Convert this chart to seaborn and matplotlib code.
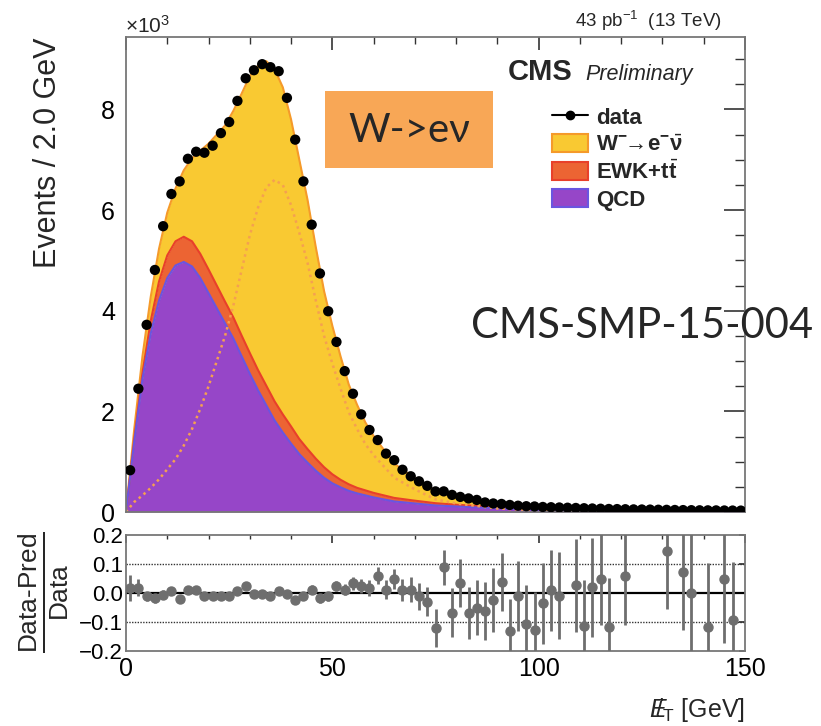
import numpy as np
import matplotlib
matplotlib.use('Agg')
import matplotlib.pyplot as plt
import matplotlib.patches as mpatches
from matplotlib.lines import Line2D
from matplotlib.ticker import MultipleLocator
import seaborn as sns

# MET bins of 2 GeV, data in units of 10^3 events
bin_centers = np.arange(1, 150, 2)
data_k = [0.83, 2.45, 3.72, 4.81, 5.68, 6.32, 6.57, 7.02, 7.16, 7.14,
          7.28, 7.53, 7.75, 8.17, 8.62, 8.78, 8.90, 8.84, 8.76, 8.23,
          7.40, 6.57, 5.71, 4.74, 3.99, 3.38, 2.80, 2.35, 1.94, 1.63,
          1.43, 1.16, 1.03, 0.84, 0.71, 0.61, 0.52, 0.41, 0.41, 0.34,
          0.30, 0.27, 0.24, 0.19, 0.17, 0.16, 0.14, 0.125, 0.115, 0.11,
          0.10, 0.095, 0.09, 0.085, 0.08, 0.075, 0.07, 0.065, 0.06, 0.058,
          0.055, 0.052, 0.05, 0.048, 0.045, 0.043, 0.04, 0.038, 0.036, 0.034,
          0.033, 0.032, 0.03, 0.029, 0.028]

# (Data-Pred)/Data per bin, nan where no point is drawn
ratio = [0.018, 0.018, -0.012, -0.018, -0.006, 0.006, -0.02, 0.01, 0.01, -0.012,
         -0.012, -0.01, -0.012, 0.006, 0.024, -0.002, -0.002, -0.012, 0.008, -0.002,
         -0.024, -0.01, 0.012, -0.018, -0.012, 0.024, 0.012, 0.034, 0.024, 0.018,
         0.06, 0.012, 0.048, 0.012, 0.012, -0.012, -0.03, -0.12, 0.088, -0.068,
         0.035, -0.07, -0.05, -0.063, -0.024, 0.039, -0.13, -0.01, -0.106, -0.126,
         -0.035, 0.01, -0.01, np.nan, 0.027, -0.115, 0.02, 0.05, -0.117, np.nan,
         0.059, np.nan, np.nan, np.nan, np.nan, 0.145, np.nan, 0.074, 0.0, np.nan,
         -0.117, np.nan, 0.047, -0.092, np.nan]
ratio_err = [0.045, 0.03, 0.015, 0.015, 0.015, 0.013, 0.013, 0.013, 0.013, 0.013,
             0.013, 0.013, 0.013, 0.013, 0.013, 0.013, 0.013, 0.013, 0.013, 0.013,
             0.013, 0.015, 0.015, 0.015, 0.017, 0.018, 0.02, 0.022, 0.025, 0.027,
             0.03, 0.032, 0.035, 0.038, 0.042, 0.045, 0.05, 0.065, 0.062, 0.085,
             0.083, 0.09, 0.094, 0.1, 0.11, 0.1, 0.11, 0.12, 0.135, 0.13,
             0.14, 0.14, 0.15, np.nan, 0.16, 0.16, 0.17, 0.16, 0.17, np.nan,
             0.17, np.nan, np.nan, np.nan, np.nan, 0.2, np.nan, 0.2, 0.22, np.nan,
             0.22, np.nan, 0.22, 0.2, np.nan]

# fitted templates (10^3 events)
model_x = [0, 2, 4, 6, 8, 10, 12, 14, 16, 18, 20, 22, 24, 26, 28, 30, 32, 34, 36, 38,
           40, 42, 44, 46, 48, 50, 52, 54, 56, 58, 60, 65, 70, 75, 80, 85, 90, 95, 100,
           110, 120, 130, 140, 150]
qcd = [0, 1.4, 2.65, 3.55, 4.2, 4.65, 4.9, 4.97, 4.88, 4.65, 4.35, 4.05, 3.75, 3.45,
       3.1, 2.75, 2.42, 2.12, 1.82, 1.58, 1.36, 1.15, 0.98, 0.82, 0.68, 0.57, 0.49,
       0.42, 0.37, 0.33, 0.29, 0.21, 0.17, 0.13, 0.11, 0.09, 0.075, 0.06, 0.05,
       0.035, 0.025, 0.018, 0.013, 0.01]
ewk = [0, 0.05, 0.12, 0.25, 0.38, 0.45, 0.48, 0.5, 0.5, 0.48, 0.47, 0.45, 0.43, 0.42,
       0.41, 0.41, 0.4, 0.39, 0.38, 0.36, 0.34, 0.3, 0.27, 0.24, 0.21, 0.18, 0.15,
       0.13, 0.11, 0.1, 0.09, 0.07, 0.055, 0.045, 0.035, 0.03, 0.025, 0.02, 0.018,
       0.014, 0.011, 0.009, 0.007, 0.006]
wenu = [0, 0.2, 0.33, 0.48, 0.65, 0.85, 1.05, 1.32, 1.65, 2.05, 2.5, 3.0, 3.5, 4.1,
        4.8, 5.5, 6.05, 6.45, 6.6, 6.5, 6.1, 5.55, 4.95, 4.2, 3.5, 2.95, 2.45, 1.98,
        1.65, 1.35, 1.13, 0.68, 0.45, 0.25, 0.17, 0.12, 0.07, 0.05, 0.04, 0.03,
        0.022, 0.017, 0.013, 0.011]

c_w = '#f9c932'
c_w_edge = '#f59a2a'
c_ewk = '#ec6433'
c_ewk_edge = '#e8402a'
c_qcd = '#9646c8'
c_qcd_edge = '#6a55e0'
c_box = '#f8a756'

sns.set_theme(style='white')
plt.rcParams['font.family'] = ['Liberation Sans', 'DejaVu Sans']
plt.rcParams['mathtext.fontset'] = 'custom'
plt.rcParams['mathtext.rm'] = 'Liberation Sans'
plt.rcParams['mathtext.it'] = 'Liberation Sans:italic'
plt.rcParams['mathtext.bf'] = 'Liberation Sans:bold'

W, H = 821, 726
fig = plt.figure(figsize=(W / 100, H / 100), dpi=100)

def fx(px):
    return px / W

def fy(py):
    return 1 - py / H

ax = fig.add_axes([fx(126), fy(512), fx(745) - fx(126), fy(37) - fy(512)])
axr = fig.add_axes([fx(126), fy(651), fx(745) - fx(126), fy(535) - fy(651)])

mx = np.array(model_x)
s1 = np.array(qcd)
s2 = s1 + np.array(ewk)
s3 = s2 + np.array(wenu)

ax.fill_between(mx, 0, s1, color=c_qcd, lw=0)
ax.fill_between(mx, s1, s2, color=c_ewk, lw=0)
ax.fill_between(mx, s2, s3, color=c_w, lw=0)
sns.lineplot(x=mx, y=s3, ax=ax, color=c_w_edge, lw=1.5)
sns.lineplot(x=mx, y=s2, ax=ax, color=c_ewk_edge, lw=1.5)
sns.lineplot(x=mx, y=s1, ax=ax, color=c_qcd_edge, lw=1.5)
sns.lineplot(x=mx, y=np.array(wenu), ax=ax, color='#f5a050', lw=1.8,
             linestyle=(0, (1, 1.5)))
sns.scatterplot(x=bin_centers, y=data_k, ax=ax, color='black', s=55,
                edgecolor='none', zorder=5)

ax.set_xlim(0, 150)
ax.set_ylim(0, 9.44)
ax.set_xlabel('')
ax.set_ylabel('')
ax.xaxis.set_major_locator(MultipleLocator(50))
ax.xaxis.set_minor_locator(MultipleLocator(10))
ax.yaxis.set_major_locator(MultipleLocator(2))
ax.yaxis.set_minor_locator(MultipleLocator(0.5))
ax.tick_params(axis='both', which='both', direction='in', top=True, right=True,
               labelbottom=False, colors='#333333', labelcolor='black')
ax.tick_params(axis='y', which='major', length=15, width=1.2, labelsize=18, pad=8)
ax.tick_params(axis='y', which='minor', length=7, width=1)
ax.tick_params(axis='x', which='major', length=9, width=1.2)
ax.tick_params(axis='x', which='minor', length=5, width=1)
ax.set_yticks([0, 2, 4, 6, 8])
ax.set_yticklabels(['0', '2', '4', '6', '8'])

# ratio panel
axr.axhline(0, color='black', lw=1.6, zorder=1)
axr.axhline(0.1, color='#333333', lw=1, linestyle=(0, (1, 1)), zorder=1)
axr.axhline(-0.1, color='#333333', lw=1, linestyle=(0, (1, 1)), zorder=1)
axr.errorbar(bin_centers, ratio, yerr=ratio_err, fmt='o', color='#6e6e6e',
             ms=6.5, elinewidth=2, capsize=0, zorder=3)
axr.set_xlim(0, 150)
axr.set_ylim(-0.2, 0.2)
axr.xaxis.set_major_locator(MultipleLocator(50))
axr.xaxis.set_minor_locator(MultipleLocator(10))
axr.set_yticks([-0.2, -0.1, 0.0, 0.1, 0.2])
axr.set_yticklabels(['\u22120.2', '\u22120.1', '0.0', '0.1', '0.2'])
axr.tick_params(axis='both', which='both', direction='in', top=True, right=True,
                colors='#333333', labelcolor='black')
axr.tick_params(axis='x', which='major', length=6, width=1.2, labelsize=18, pad=4)
axr.tick_params(axis='x', which='minor', length=3, width=1)
axr.tick_params(axis='y', which='major', length=4, labelsize=16, pad=2)

for a in (ax, axr):
    for sp in a.spines.values():
        sp.set_color('#777777')
        sp.set_linewidth(1.3)

# texts
fig.text(fx(48), fy(37), 'Events / 2.0 GeV', rotation=90, ha='center', va='top',
         fontsize=22)
fig.text(fx(125), fy(26), '\u00d710$^{3}$', ha='left', va='center', fontsize=15)
fig.text(fx(722), fy(21), '43 pb$^{-1}$  (13 TeV)', ha='right', va='center',
         fontsize=13.5)
fig.text(fx(508), fy(80), 'CMS', ha='left', va='baseline', fontsize=21,
         fontweight='bold')
fig.text(fx(585), fy(80), 'Preliminary', ha='left', va='baseline', fontsize=15.5,
         fontstyle='italic')
fig.text(fx(44), fy(592), r'$\frac{\mathrm{Data\text{-}Pred}}{\mathrm{Data}}$',
         rotation=90, ha='center', va='center', fontsize=27)
fig.text(fx(745), fy(710), r'$E\!\!\!/_{\mathrm{T}}$ [GeV]', ha='right',
         va='center', fontsize=18)

# legend
handles = [Line2D([0], [0], color='black', marker='o', ms=6, lw=1.5),
           mpatches.Patch(facecolor=c_w, edgecolor=c_w_edge, lw=1.5),
           mpatches.Patch(facecolor=c_ewk, edgecolor=c_ewk_edge, lw=1.5),
           mpatches.Patch(facecolor=c_qcd, edgecolor=c_qcd_edge, lw=1.5)]
labels = ['data', r'W$^{\mathbf{-}}\!\!\rightarrow\!$e$^{\mathbf{-}}\bar{\mathbf{\nu}}$',
          r'EWK+t$\bar{\mathbf{t}}$', 'QCD']
fig.legend(handles, labels, loc='upper left',
           bbox_to_anchor=(fx(552), fy(107)), frameon=False,
           prop={'weight': 'bold', 'size': 16}, handlelength=1.6,
           handleheight=0.9, handletextpad=0.4, labelspacing=0.22,
           borderpad=0, borderaxespad=0)

# annotation box and note
fig.patches.append(mpatches.Rectangle((fx(325), fy(168)), fx(493) - fx(325),
                                      fy(91) - fy(168), transform=fig.transFigure,
                                      facecolor=c_box, edgecolor='none', zorder=10))
fig.text(fx(409), fy(130), 'W->e\u03bd', ha='center', va='center', fontsize=29,
         family=['Lato', 'DejaVu Sans'], zorder=11)
fig.text(fx(471), fy(326), 'CMS-SMP-15-004', ha='left', va='center', fontsize=30,
         family=['Lato', 'DejaVu Sans'], zorder=11)

fig.savefig('out.png', dpi=100)
